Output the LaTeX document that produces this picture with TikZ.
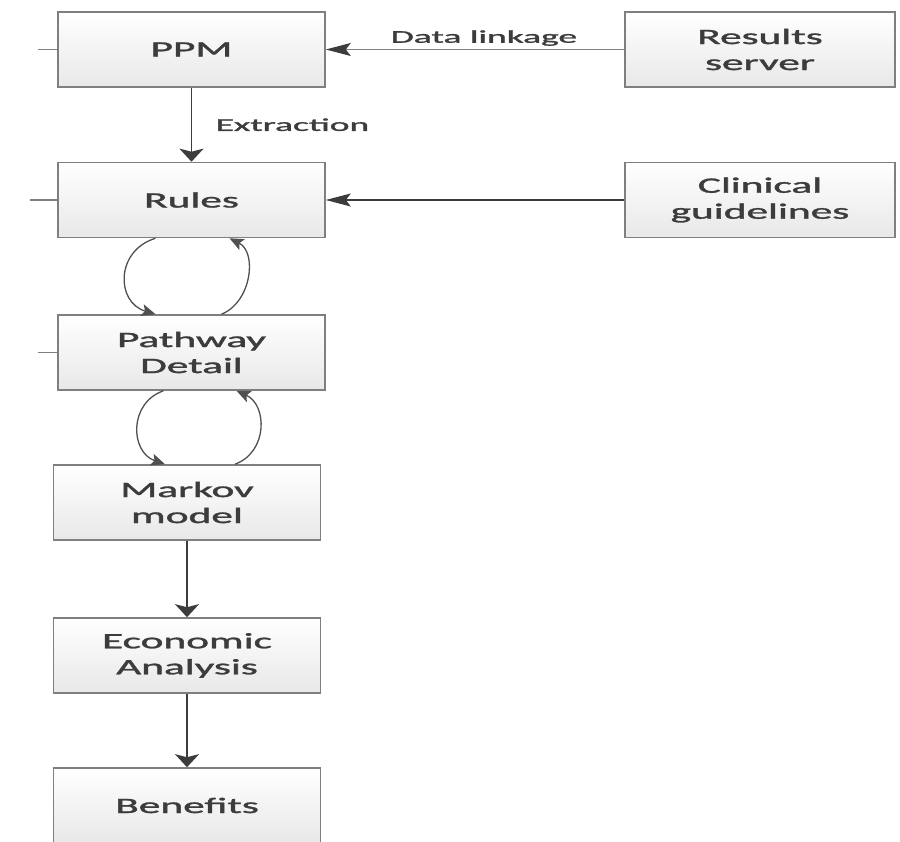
\documentclass[tikz,border=0pt]{standalone}
\usepackage{graphicx}
\usepackage{fontspec}
\setmainfont{Carlito}
\newfontfamily\diagfont{Carlito}[FakeBold=1.2]
\usetikzlibrary{arrows.meta}

\definecolor{boxline}{HTML}{7F7F7F}
\definecolor{inkgray}{HTML}{3C3C3C}
\newcommand{\wtext}[1]{\scalebox{1.97}[1]{#1}}
\newcommand{\wlabel}[1]{\scalebox{2.08}[1]{#1}}

\tikzset{
  block/.style={draw=boxline, line width=1.6pt, top color=white, bottom color=black!9,
    minimum width=267pt, minimum height=75pt, inner sep=0pt, align=center,
    text=inkgray, font=\diagfont\fontsize{22}{26}\selectfont},
  flow/.style={draw=inkgray, line width=1.7pt, -{Stealth[length=13pt, width=24pt, inset=3pt]}},
  feed/.style={draw=gray, line width=1.3pt, -{Stealth[length=25pt, width=13pt, inset=5pt, color=inkgray]}},
  swing/.style={draw=inkgray!90, line width=1.3pt, -{Stealth[length=14pt, width=12pt, inset=3pt]}},
  stub/.style={draw=gray, line width=1.3pt},
  lbl/.style={text=inkgray, font=\diagfont\fontsize{18}{22}\selectfont}
}

\begin{document}
\begin{tikzpicture}[x=1pt, y=-1pt]
    \useasboundingbox (0,0) rectangle (900,842);

    % Main column
    \node[block] (ppm) at (191.5, 49.5) {\wtext{PPM}};
    \node[block] (rules) at (191.5, 200) {\wtext{Rules}};
    \node[block] (path) at (191.5, 352.5) {\wtext{Pathway}\\\wtext{Detail}};
    \node[block] (markov) at (187, 502.5) {\wtext{Markov}\\\wtext{model}};
    \node[block] (econ) at (187, 655.5) {\wtext{Economic}\\\wtext{Analysis}};
    \node[block] (benefits) at (187, 805.5) {\wtext{Benefits}};

    % Sources
    \node[block, minimum width=270pt] (results) at (760, 49.5) {\wtext{Results}\\\wtext{server}};
    \node[block, minimum width=270pt] (clinical) at (760, 200) {\wtext{Clinical}\\\wtext{guidelines}};

    % Stubs on the left
    \coordinate (ppmstub) at (38, 49.5);
    \coordinate (rulesstub) at (30, 200);
    \coordinate (pathstub) at (38, 352.5);
    \draw[stub] (ppmstub) -- (ppm.west);
    \draw[stub] (rulesstub) -- (rules.west);
    \draw[stub] (pathstub) -- (path.west);

    % Straight connections
    \draw[feed] (results) -- node[lbl, above, pos=0.47, inner sep=3pt] {\wlabel{Data linkage}} (ppm);
    \draw[feed, draw=inkgray] (clinical) -- (rules);
    \draw[flow] (ppm) -- node[lbl, right=20pt] {\wlabel{Extraction}} (rules);
    \draw[flow] (markov) -- (econ);
    \draw[flow] (econ) -- (benefits);

    % Loops
    \draw[swing] ([xshift=-36pt]rules.south) .. controls +(-40,12) and +(-40,-12) .. ([xshift=-36pt]path.north);
    \draw[swing] ([xshift=30pt]path.north) .. controls +(30,-12) and +(28,14) .. ([xshift=38pt]rules.south);
    \draw[swing] ([xshift=-28pt]path.south) .. controls +(-35,12) and +(-35,-12) .. ([xshift=-22pt]markov.north);
    \draw[swing] ([xshift=48pt]markov.north) .. controls +(33,-12) and +(31,14) .. ([xshift=45pt]path.south);
\end{tikzpicture}
\end{document}
